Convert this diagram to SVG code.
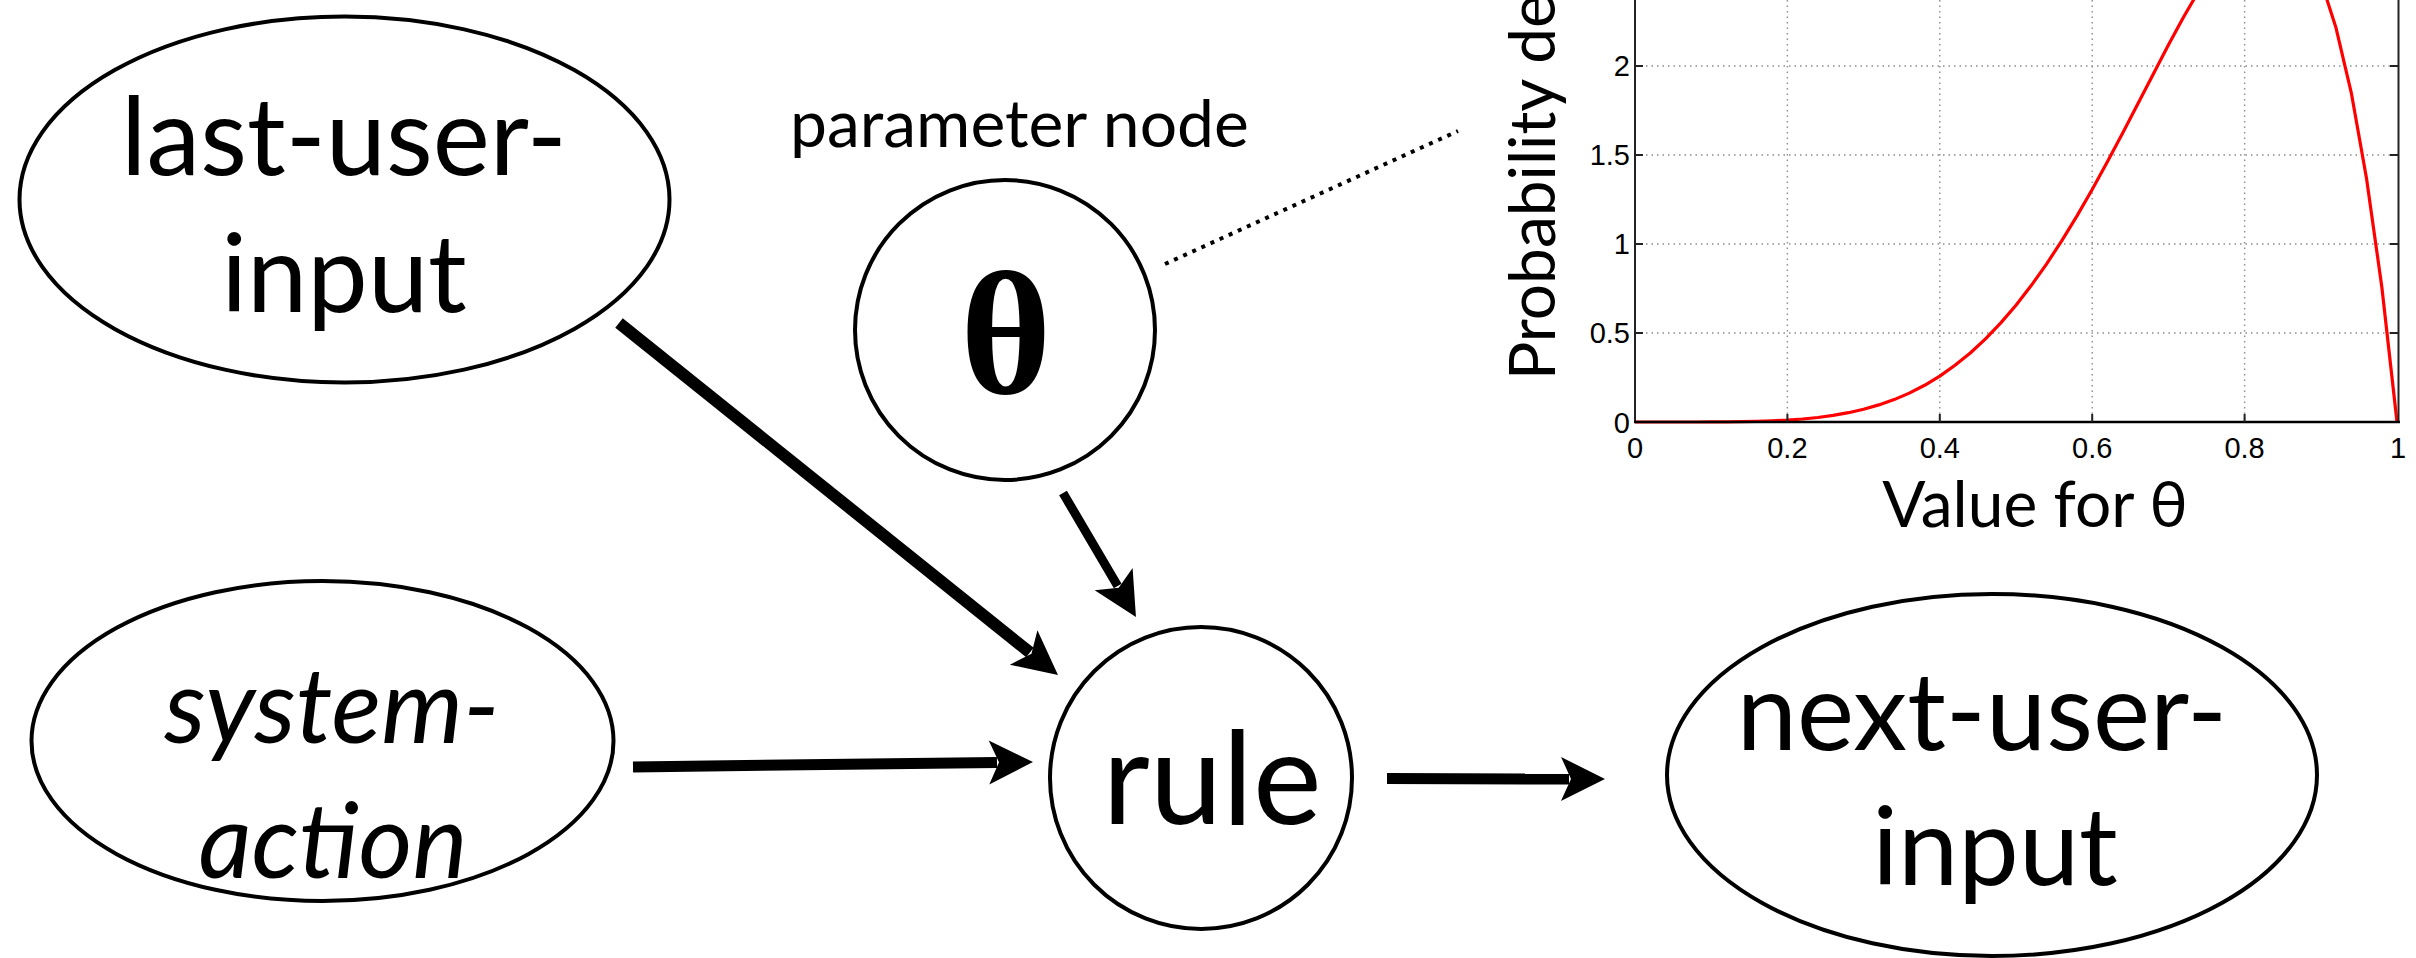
<svg xmlns="http://www.w3.org/2000/svg" width="2416" height="958" viewBox="0 0 2416 958">
<style>
.node{fill:#fff;stroke:#000;stroke-width:4}
.lbl{font-family:Lato,"Open Sans","Liberation Sans",sans-serif;fill:#000;text-anchor:middle}
.edge{stroke:#000;fill:none;stroke-linecap:butt}
.grid{stroke:#8c8c8c;stroke-width:1.4;stroke-dasharray:1.5 4;fill:none}
.tick{font-family:"Liberation Sans",Arial,sans-serif;font-size:29px;fill:#000}
.axl{font-family:Lato,"Open Sans","Liberation Sans",sans-serif;fill:#000}
</style>
<defs>
<marker id="ah" markerUnits="userSpaceOnUse" markerWidth="80" markerHeight="80" refX="0" refY="0" orient="auto" overflow="visible" viewBox="-40 -40 80 80">
<path d="M36,0 L-8,-22 L2,0 L-8,22 Z" fill="#000"/>
</marker>
</defs>
<rect width="2416" height="958" fill="#fff"/>

<g id="chart">
<g class="grid">
<line x1="1787.4" y1="0" x2="1787.4" y2="422"/>
<line x1="1939.8" y1="0" x2="1939.8" y2="422"/>
<line x1="2092.2" y1="0" x2="2092.2" y2="422"/>
<line x1="2244.6" y1="0" x2="2244.6" y2="422"/>
<line x1="1635" y1="333" x2="2398" y2="333"/>
<line x1="1635" y1="244" x2="2398" y2="244"/>
<line x1="1635" y1="155" x2="2398" y2="155"/>
<line x1="1635" y1="66" x2="2398" y2="66"/>
</g>
<polyline fill="none" stroke="#ff0000" stroke-width="3.2" stroke-linejoin="round" points="1635,422 1650.2,422 1665.5,422 1680.7,422 1696,422 1711.2,421.9 1726.4,421.8 1741.7,421.7 1756.9,421.3 1772.2,420.8 1787.4,420.1 1802.6,419 1817.9,417.5 1833.1,415.4 1848.4,412.7 1863.6,409.3 1878.8,404.9 1894.1,399.6 1909.3,393.1 1924.6,385.3 1939.8,376.1 1955,365.3 1970.3,353 1985.5,338.8 2000.8,322.9 2016,305.2 2031.2,285.6 2046.5,264.1 2061.7,240.8 2077,215.9 2092.2,189.5 2107.4,161.7 2122.7,133 2137.9,103.7 2153.2,74.2 2168.4,45 2183.6,17 2198.9,-9.3 2214.1,-32.9 2229.4,-52.9 2244.6,-67.9 2259.8,-76.9 2275.1,-78.3 2290.3,-70.4 2305.6,-51.4 2320.8,-19.5 2336,27.8 2351.3,92.8 2366.5,178.2 2381.8,286.8 2397,422"/>
<g stroke="#222" stroke-width="2">
<line x1="1635" y1="0" x2="1635" y2="423"/>
<line x1="2398.5" y1="0" x2="2398.5" y2="423"/>
<line x1="1634" y1="422" x2="2400" y2="422" stroke="#000" stroke-width="2.6"/>
<path d="M1635,333h8M1635,244h8M1635,155h8M1635,66h8M2398,333h-8M2398,244h-8M2398,155h-8M2398,66h-8M1787.4,422v-8M1939.8,422v-8M2092.2,422v-8M2244.6,422v-8" fill="none"/>
</g>
<g class="tick" text-anchor="end">
<text x="1630" y="433">0</text>
<text x="1630" y="343">0.5</text>
<text x="1630" y="254">1</text>
<text x="1630" y="165">1.5</text>
<text x="1630" y="76">2</text>
</g>
<g class="tick" text-anchor="middle">
<text x="1635" y="458">0</text>
<text x="1787.4" y="458">0.2</text>
<text x="1939.8" y="458">0.4</text>
<text x="2092.2" y="458">0.6</text>
<text x="2244.6" y="458">0.8</text>
<text x="2398" y="458">1</text>
</g>
<text class="axl" font-size="64" text-anchor="middle" x="2035" y="527">Value for θ</text>
<text class="axl" font-size="64" transform="translate(1555,380) rotate(-90)" x="0" y="0">Probability density</text>
</g>

<g id="connectors">
<line class="edge" stroke-width="12" x1="619" y1="323" x2="1029.9" y2="652.5" marker-end="url(#ah)"/>
<line class="edge" stroke-width="9" x1="1063" y1="493" x2="1117.7" y2="586" marker-end="url(#ah)"/>
<line class="edge" stroke-width="11" x1="633" y1="767" x2="997" y2="762.4" marker-end="url(#ah)"/>
<line class="edge" stroke-width="11" x1="1387" y1="778.5" x2="1569" y2="779" marker-end="url(#ah)"/>
<line stroke="#000" stroke-width="4" stroke-dasharray="4 6" x1="1165" y1="264" x2="1458" y2="131"/>
</g>

<g id="node-last-user-input">
<ellipse class="node" cx="344.5" cy="199.5" rx="325" ry="183"/>
<text class="lbl" font-size="108" x="344" y="175">last-user-</text>
<text class="lbl" font-size="108" x="344" y="312">input</text>
</g>

<g id="node-parameter">
<text class="axl" font-size="66" x="790" y="147">parameter node</text>
<circle class="node" cx="1005" cy="330" r="150"/>
<text font-family="'Liberation Serif','DejaVu Serif',serif" font-weight="bold" font-size="175" text-anchor="middle" x="1006" y="393">θ</text>
</g>

<g id="node-system-action">
<ellipse class="node" cx="322.5" cy="741" rx="291" ry="160"/>
<text class="lbl" font-style="italic" font-size="104" x="332" y="743">system-</text>
<text class="lbl" font-style="italic" font-size="104" x="333" y="878">action</text>
</g>

<g id="node-rule">
<circle class="node" cx="1201" cy="778" r="151"/>
<text class="lbl" font-size="130" x="1212" y="824">rule</text>
</g>

<g id="node-next-user-input">
<ellipse class="node" cx="1992" cy="775" rx="325" ry="181"/>
<text class="lbl" font-size="108" x="1982" y="750">next-user-</text>
<text class="lbl" font-size="108" x="1995" y="885">input</text>
</g>
</svg>
